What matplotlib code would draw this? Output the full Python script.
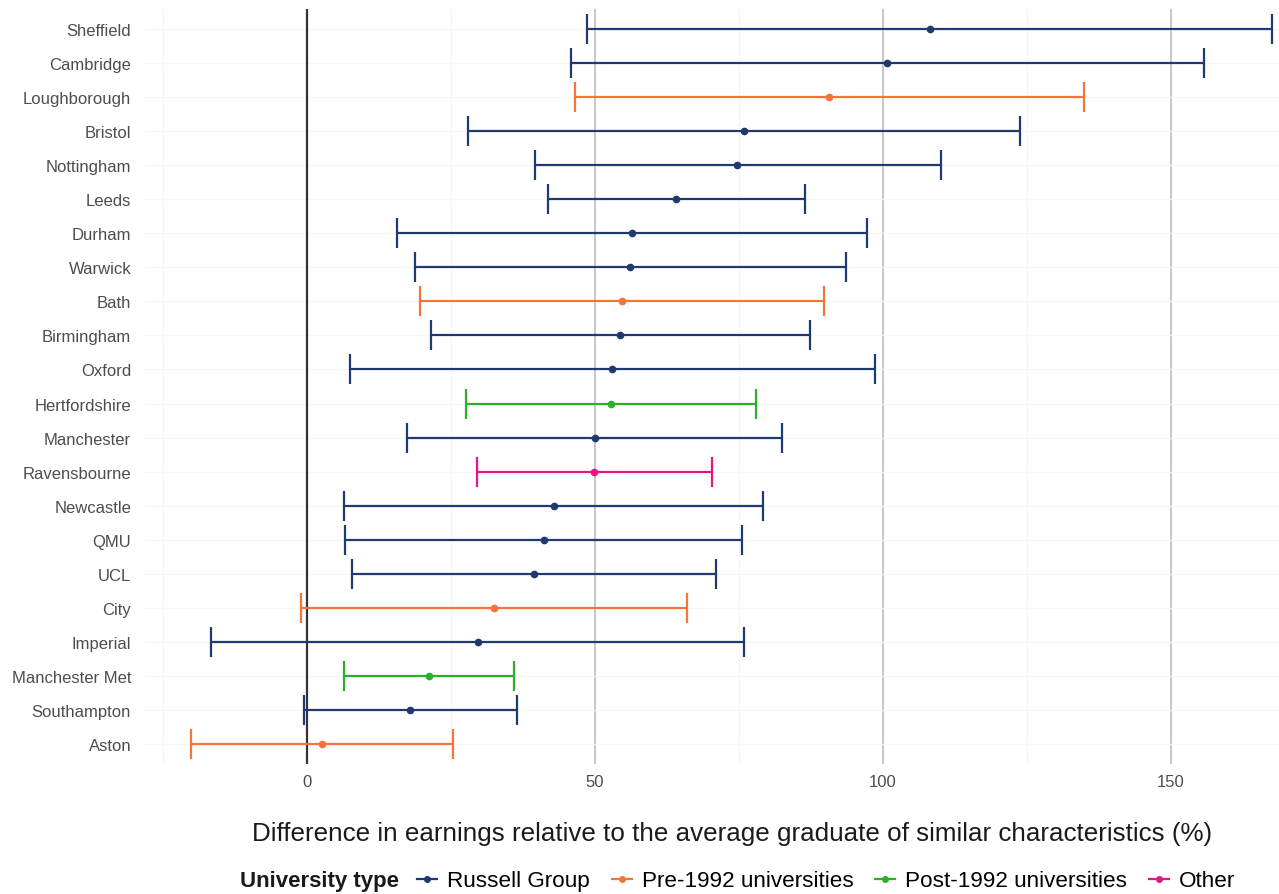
import numpy as np
import matplotlib.pyplot as plt
from matplotlib.lines import Line2D

plt.rcParams['font.family'] = ['Liberation Sans', 'DejaVu Sans']

# data (top to bottom)
universities = ['Sheffield', 'Cambridge', 'Loughborough', 'Bristol', 'Nottingham', 'Leeds',
                'Durham', 'Warwick', 'Bath', 'Birmingham', 'Oxford', 'Hertfordshire',
                'Manchester', 'Ravensbourne', 'Newcastle', 'QMU', 'UCL', 'City', 'Imperial',
                'Manchester Met', 'Southampton', 'Aston']
estimate = [108.2, 100.7, 90.6, 75.9, 74.7, 64.1, 56.4, 56.1, 54.7, 54.3, 53.0, 52.8,
            50.0, 49.8, 42.9, 41.1, 39.4, 32.5, 29.7, 21.2, 17.9, 2.6]
lower = [48.6, 45.8, 46.5, 28.0, 39.6, 41.8, 15.6, 18.8, 19.6, 21.5, 7.5, 27.6,
         17.4, 29.5, 6.4, 6.6, 7.8, -1.0, -16.7, 6.4, -0.5, -20.1]
upper = [167.5, 155.7, 134.9, 123.8, 110.1, 86.5, 97.2, 93.6, 89.8, 87.3, 98.6, 78.0,
         82.5, 70.3, 79.2, 75.5, 71.0, 66.0, 75.9, 35.9, 36.5, 25.3]
uni_type = ['Russell Group', 'Russell Group', 'Pre-1992 universities', 'Russell Group',
            'Russell Group', 'Russell Group', 'Russell Group', 'Russell Group',
            'Pre-1992 universities', 'Russell Group', 'Russell Group', 'Post-1992 universities',
            'Russell Group', 'Other', 'Russell Group', 'Russell Group', 'Russell Group',
            'Pre-1992 universities', 'Russell Group', 'Post-1992 universities',
            'Russell Group', 'Pre-1992 universities']

type_order = ['Russell Group', 'Pre-1992 universities', 'Post-1992 universities', 'Other']
type_colors = {'Russell Group': '#1f3a6e', 'Pre-1992 universities': '#f4743b',
               'Post-1992 universities': '#2bb02b', 'Other': '#e5177e'}

fig = plt.figure(figsize=(12.79, 8.95), dpi=100)
ax = fig.add_axes([145 / 1279, 130 / 895, 1 - 145 / 1279, 755 / 895])

n = len(universities)
ypos = np.arange(n)[::-1]

ax.set_xlim(-28.1, 168.75)
ax.set_ylim(-0.6, n - 1 + 0.6)

# grid
for x in [50, 100, 150]:
    ax.axvline(x, color='#c4c8cc', lw=1.4, zorder=0)
for x in [-25, 25, 75, 125]:
    ax.axvline(x, color='#f6f7f8', lw=0.8, zorder=0)
for y in ypos:
    ax.axhline(y, color='#f6f7f8', lw=0.8, zorder=0)
ax.axvline(0, color='#333333', lw=1.6, zorder=1)

for i in range(n):
    c = type_colors[uni_type[i]]
    est = estimate[i]
    ax.errorbar(est, ypos[i], xerr=[[est - lower[i]], [upper[i] - est]],
                fmt='o', color=c, ecolor=c, elinewidth=1.6, capsize=11, capthick=1.6,
                markersize=4.5, zorder=3)

ax.set_yticks(ypos)
ax.set_yticklabels(universities, fontsize=12, color='#4d4d4d')
ax.set_xticks([0, 50, 100, 150])
ax.set_xticklabels(['0', '50', '100', '150'], fontsize=12, color='#4d4d4d')
ax.tick_params(length=0)
ax.tick_params(axis='y', pad=10)
ax.tick_params(axis='x', pad=7)
for s in ax.spines.values():
    s.set_visible(False)

ax.set_xlabel('Difference in earnings relative to the average graduate of similar characteristics (%)',
              fontsize=18.7, color='#1a1a1a')
ax.xaxis.set_label_coords((732 - 145) / (1279 - 145), -57 / 755)

# legend
handles = [Line2D([0], [0], color=type_colors[t], lw=1.6, marker='o', markersize=4)
           for t in type_order]
leg = fig.legend(handles, type_order, loc='center left', bbox_to_anchor=(408 / 1279, 13 / 895),
                 ncol=4, frameon=False, fontsize=16.2, handlelength=0.9, handletextpad=0.45,
                 columnspacing=0.95, borderaxespad=0)
fig.text(240 / 1279, 13 / 895, 'University type', fontsize=16, fontweight='bold',
         va='center', ha='left', color='#1a1a1a')

fig.savefig('out.png', dpi=100)
